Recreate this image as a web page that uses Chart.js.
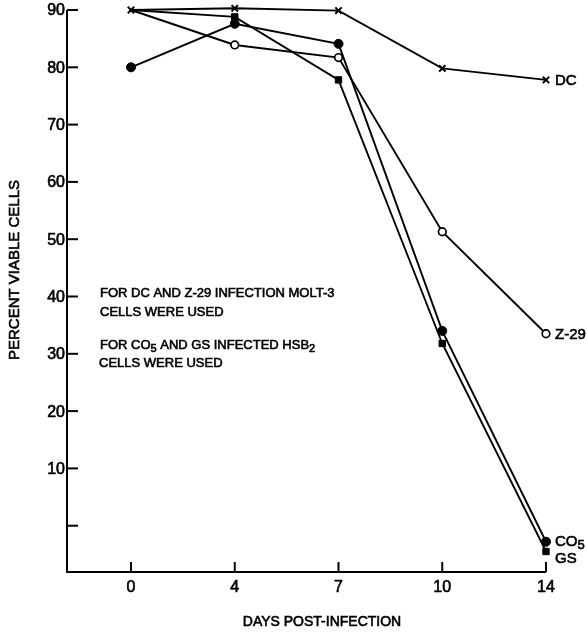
<!DOCTYPE html>
<html>
<head>
<meta charset="utf-8">
<script src="https://cdn.jsdelivr.net/npm/chart.js@4.4.1/dist/chart.umd.min.js"></script>
<style>
  body { margin: 0; background: #fff; }
  #wrap { width: 587px; height: 633px; }
</style>
</head>
<body>
<div id="wrap"><canvas id="viability" width="587" height="633"></canvas></div>
<script>
// days post-infection (evenly spaced categories)
const days = ['0', '4', '7', '10', '14'];
const yTickValues = [0, 10, 20, 30, 40, 50, 60, 70, 80, 90];
const yTickLabels = ['', '10', '20', '30', '40', '50', '60', '70', '80', '90'];

// percent viable cells
const dcValues  = [90.0, 90.3, 89.9, 79.8, 77.8];
const z29Values = [90.0, 83.9, 81.7, 51.3, 33.5];
const co5Values = [80.0, 87.6, 84.1, 34.0, -2.8];
const gsValues  = [90.0, 88.8, 77.8, 31.8, -4.5];

const FONT = "'Liberation Sans', Arial, Helvetica, sans-serif";

function toPoints(vals) {
    return vals.map((v, i) => ({ x: i, y: v }));
}

// slightly heavier text, like the printed figure
function inkText(ctx, s, x, y) {
    ctx.fillText(s, x, y);
    ctx.strokeText(s, x, y);
}

// draw a run of [text, isSubscript] pieces starting at x
function drawParts(ctx, parts, x, y, size) {
    ctx.textAlign = 'left';
    ctx.textBaseline = 'middle';
    parts.forEach(p => {
        const sub = p[1];
        ctx.font = (sub ? size - 2 : size) + 'px ' + FONT;
        inkText(ctx, p[0], x, sub ? y + 4 : y);
        x += ctx.measureText(p[0]).width;
    });
}

const axesPlugin = {
    id: 'oldAxes',
    afterDraw(chart) {
        const ctx = chart.ctx;
        const xs = chart.scales.x;
        const ys = chart.scales.y;
        const area = chart.chartArea;
        const left = area.left;
        const bottom = area.bottom;

        ctx.save();
        ctx.strokeStyle = '#000';
        ctx.fillStyle = '#000';
        ctx.lineWidth = 2;

        // axis lines
        ctx.beginPath();
        ctx.moveTo(left, ys.getPixelForValue(90));
        ctx.lineTo(left, bottom);
        ctx.lineTo(xs.getPixelForValue(days.length - 1), bottom);
        ctx.stroke();

        // y ticks, pointing inward
        yTickValues.forEach((v) => {
            const py = ys.getPixelForValue(v);
            ctx.beginPath();
            ctx.moveTo(left, py);
            ctx.lineTo(left + 11, py);
            ctx.stroke();
        });
        days.forEach((d, i) => {
            const px = xs.getPixelForValue(i);
            ctx.beginPath();
            ctx.moveTo(px, bottom);
            ctx.lineTo(px, bottom - 10);
            ctx.stroke();
        });

        ctx.lineWidth = 0.6;
        ctx.font = '16px ' + FONT;
        ctx.textAlign = 'right';
        ctx.textBaseline = 'middle';
        yTickValues.forEach((v, i) => {
            inkText(ctx, yTickLabels[i], left - 2, ys.getPixelForValue(v) + 1);
        });

        ctx.textAlign = 'center';
        days.forEach((d, i) => {
            inkText(ctx, d, xs.getPixelForValue(i), bottom + 16);
        });

        // axis titles
        ctx.font = '14px ' + FONT;
        inkText(ctx, 'DAYS POST-INFECTION', 322, 622);
        ctx.save();
        ctx.translate(15, 270);
        ctx.rotate(-Math.PI / 2);
        ctx.font = '15px ' + FONT;
        inkText(ctx, 'PERCENT VIABLE CELLS', 0, 0);
        ctx.restore();

        // series names at the end of each line
        const last = days.length - 1;
        const endLabels = [
            [[['DC', false]], dcValues, 1],
            [[['Z-29', false]], z29Values, 1],
            [[['CO', false], ['5', true]], co5Values, 0],
            [[['GS', false]], gsValues, 7]
        ];
        endLabels.forEach(e => {
            const px = xs.getPixelForValue(last) + 9;
            const py = ys.getPixelForValue(e[1][last]) + e[2];
            drawParts(ctx, e[0], px, py, 15);
        });

        // note
        drawParts(ctx, [['FOR DC AND Z-29 INFECTION MOLT-3', false]], 100, 293, 13);
        drawParts(ctx, [['CELLS WERE USED', false]], 100, 312, 13);
        drawParts(ctx, [['FOR CO', false], ['5', true], [' AND GS INFECTED HSB', false], ['2', true]], 100, 345, 13);
        drawParts(ctx, [['CELLS WERE USED', false]], 99, 363, 13);

        ctx.restore();
    }
};

const ctx = document.getElementById('viability').getContext('2d');
new Chart(ctx, {
    type: 'scatter',
    data: {
        datasets: [
            {
                label: 'DC', data: toPoints(dcValues), showLine: true,
                borderColor: '#000', borderWidth: 1.9,
                pointStyle: 'crossRot', pointRadius: 4.5, pointBorderWidth: 2,
                pointBorderColor: '#000', clip: false
            },
            {
                label: 'Z-29', data: toPoints(z29Values), showLine: true,
                borderColor: '#000', borderWidth: 1.9,
                pointStyle: 'circle', pointRadius: [0, 3.8, 3.8, 3.8, 3.8], pointBorderWidth: 1.7,
                pointBackgroundColor: '#fff', pointBorderColor: '#000', clip: false
            },
            {
                label: 'CO5', data: toPoints(co5Values), showLine: true,
                borderColor: '#000', borderWidth: 1.9,
                pointStyle: 'circle', pointRadius: 4.5, pointBorderWidth: 1,
                pointBackgroundColor: '#000', pointBorderColor: '#000', clip: false
            },
            {
                label: 'GS', data: toPoints(gsValues), showLine: true,
                borderColor: '#000', borderWidth: 1.9,
                pointStyle: 'rect', pointRadius: [0, 4.5, 4.5, 4.5, 4.5], pointBorderWidth: 1,
                pointBackgroundColor: '#000', pointBorderColor: '#000', clip: false
            }
        ]
    },
    options: {
        responsive: false,
        animation: false,
        layout: { padding: { left: 67, right: 41, top: 10, bottom: 61 } },
        plugins: { legend: { display: false }, tooltip: { enabled: false } },
        scales: {
            x: { type: 'linear', min: -0.617, max: days.length - 1, display: false },
            y: { type: 'linear', min: -8.08, max: 90, display: false }
        }
    },
    plugins: [axesPlugin]
});
</script>
</body>
</html>
